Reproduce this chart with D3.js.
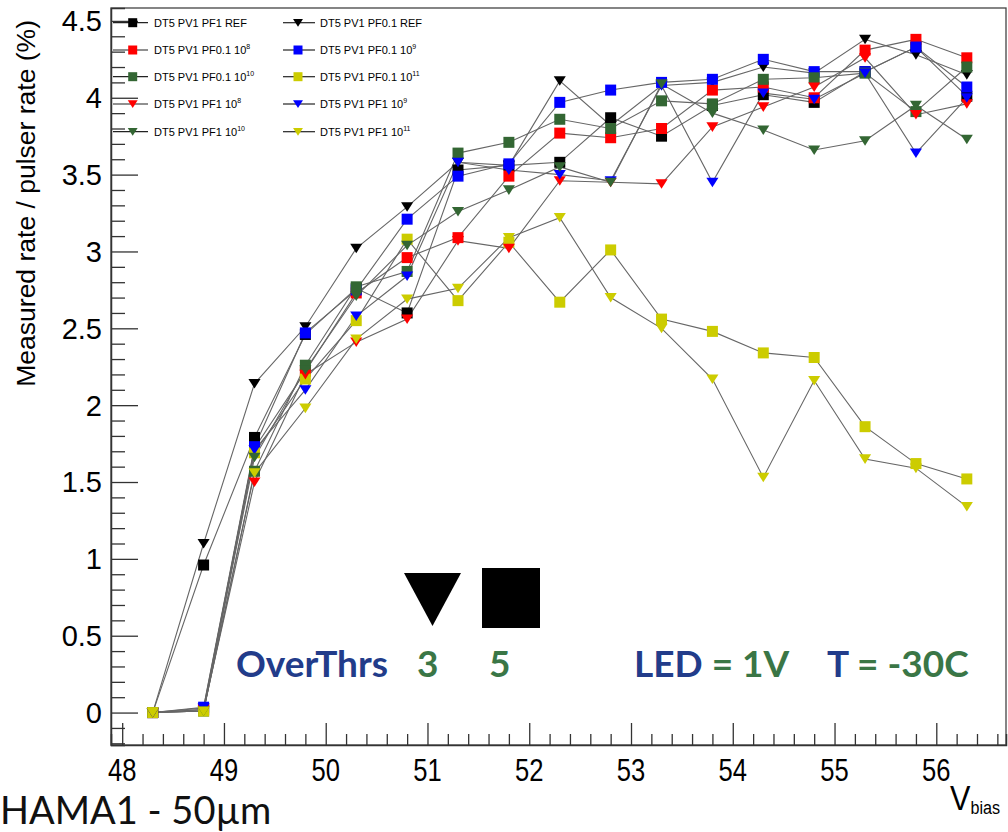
<!DOCTYPE html>
<html>
<head>
<meta charset="utf-8">
<script src="https://cdn.jsdelivr.net/npm/d3@7"></script>
<style>
  html, body { margin: 0; padding: 0; background: #fff; }
  svg { display: block; }
</style>
</head>
<body>
<svg id="chart" width="1008" height="832"></svg>
<script>
// Bias voltage scan points (V)
const vbias = [48.3, 48.8, 49.3, 49.8, 50.3, 50.8, 51.3, 51.8, 52.3, 52.8, 53.3, 53.8, 54.3, 54.8, 55.3, 55.8, 56.3];

// Measured rate / pulser rate (%) for each run
const pf1Ref      = [0, 0.96, 1.79, 2.46, 2.76, 2.60, 3.53, 3.56, 3.58, 3.87, 3.75, 3.95, 4.02, 3.97, 4.17, 4.33, 4.01];
const pf01Ref     = [0, 1.10, 2.14, 2.51, 3.02, 3.29, 3.58, 3.56, 4.11, 3.82, 4.08, 4.10, 4.20, 4.16, 4.38, 4.28, 4.15];
const pf01e8      = [0, 0.02, 1.72, 2.22, 2.73, 2.96, 3.09, 3.49, 3.77, 3.74, 3.80, 4.05, 4.07, 4.00, 4.31, 4.38, 4.26];
const pf01e9      = [0, 0.035, 1.73, 2.47, 2.75, 3.21, 3.49, 3.57, 3.97, 4.05, 4.10, 4.12, 4.25, 4.17, 4.17, 4.33, 4.07];
const pf01e10     = [0, 0.01, 1.57, 2.26, 2.77, 2.87, 3.64, 3.71, 3.86, 3.80, 3.98, 3.96, 4.12, 4.13, 4.16, 3.91, 4.20];
const pf01e11     = [0, 0.01, 1.69, 2.17, 2.55, 3.08, 2.68, 3.06, 2.67, 3.01, 2.56, 2.48, 2.34, 2.31, 1.86, 1.62, 1.52];
const pf1e8       = [0, 0.02, 1.50, 2.20, 2.41, 2.56, 3.07, 3.02, 3.46, 3.45, 3.44, 3.81, 3.94, 4.07, 4.26, 3.89, 3.96];
const pf1e9       = [0, 0.03, 1.71, 2.10, 2.58, 2.84, 3.58, 3.53, 3.50, 3.46, 4.08, 3.45, 4.03, 3.99, 4.16, 3.64, 4.00];
const pf1e10      = [0, 0.01, 1.66, 2.23, 2.71, 3.04, 3.26, 3.40, 3.55, 3.45, 4.09, 3.90, 3.79, 3.66, 3.72, 3.95, 3.73];
const pf1e11      = [0, 0.01, 1.56, 1.98, 2.43, 2.69, 2.76, 3.09, 3.22, 2.70, 2.50, 2.17, 1.53, 2.16, 1.65, 1.59, 1.34];

// Legend names: [base text, superscript exponent]
const seriesNames = [
  ["DT5 PV1 PF1 REF", ""],
  ["DT5 PV1 PF0.1 REF", ""],
  ["DT5 PV1 PF0.1 10", "8"],
  ["DT5 PV1 PF0.1 10", "9"],
  ["DT5 PV1 PF0.1 10", "10"],
  ["DT5 PV1 PF0.1 10", "11"],
  ["DT5 PV1 PF1 10", "8"],
  ["DT5 PV1 PF1 10", "9"],
  ["DT5 PV1 PF1 10", "10"],
  ["DT5 PV1 PF1 10", "11"]
];
const seriesValues = [pf1Ref, pf01Ref, pf01e8, pf01e9, pf01e10, pf01e11, pf1e8, pf1e9, pf1e10, pf1e11];

const xTicksMajor = [48, 49, 50, 51, 52, 53, 54, 55, 56];
const yTicksMajor = [0, 0.5, 1, 1.5, 2, 2.5, 3, 3.5, 4, 4.5];

// Marker style per run
const RED = "#ff0000", BLUE = "#0000ff", GREEN = "#336633", YELLOW = "#cccc00", BLACK = "#000000";
const styles = [
  {color: BLACK,  shape: "square"},
  {color: BLACK,  shape: "tri"},
  {color: RED,    shape: "square"},
  {color: BLUE,   shape: "square"},
  {color: GREEN,  shape: "square"},
  {color: YELLOW, shape: "square"},
  {color: RED,    shape: "tri"},
  {color: BLUE,   shape: "tri"},
  {color: GREEN,  shape: "tri"},
  {color: YELLOW, shape: "tri"}
];

const series = seriesValues.map((vals, i) => ({
  name: seriesNames[i],
  points: vbias.map((v, j) => ({x: v, y: vals[j]})),
  ...styles[i]
}));

const svg = d3.select("#chart");
const frame = {left: 111, right: 1006, top: 8, bottom: 745};

const x = d3.scaleLinear().domain([47.89, 56.685]).range([frame.left, frame.right]);
const y = d3.scaleLinear().domain([-0.211, 4.584]).range([frame.bottom, frame.top]);

const AXIS_FONT = "'Liberation Sans', Arial, Helvetica, sans-serif";

// Marker path generators
function markerPath(shape, s) {
  if (shape === "square") {
    const h = s / 2;
    return `M${-h},${-h}H${h}V${h}H${-h}Z`;
  }
  const w = s * 0.55, hTop = s * 0.42, hBot = s * 0.45;
  return `M${-w},${-hTop}L${w},${-hTop}L0,${hBot}Z`;
}

// Frame (top and right edges)
svg.append("rect")
  .attr("x", frame.left).attr("y", frame.top)
  .attr("width", frame.right - frame.left).attr("height", frame.bottom - frame.top)
  .attr("fill", "none").attr("stroke", "#444").attr("stroke-width", 1.3);

// Y axis: ticks drawn inward (to the right)
const yAxis = d3.axisRight(y)
  .tickValues(d3.range(-2, 46).map(k => k / 10))
  .tickSize(14)
  .tickFormat("");
const yAxisG = svg.append("g").attr("transform", `translate(${frame.left},0)`).call(yAxis);
yAxisG.select(".domain").attr("stroke", "#333").attr("stroke-width", 1.5);
yAxisG.selectAll(".tick line")
  .attr("stroke", "#333").attr("stroke-width", 1.3)
  .attr("x2", d => (Math.abs(d * 2 - Math.round(d * 2)) < 1e-6 ? 27 : 14));

svg.append("g").selectAll("text").data(yTicksMajor).join("text")
  .attr("x", 102).attr("y", d => y(d))
  .attr("dy", "0.36em")
  .attr("text-anchor", "end")
  .attr("font-family", AXIS_FONT).attr("font-size", 29)
  .text(d => d);

// X axis: ticks drawn inward (upward)
const xAxis = d3.axisTop(x)
  .tickValues(d3.range(240, 284).map(k => k / 5))
  .tickSize(11)
  .tickFormat("");
const xAxisG = svg.append("g").attr("transform", `translate(0,${frame.bottom})`).call(xAxis);
xAxisG.select(".domain").attr("stroke", "#333").attr("stroke-width", 1.5);
xAxisG.selectAll(".tick line")
  .attr("stroke", "#333").attr("stroke-width", 1.3)
  .attr("y2", d => (Math.abs(d - Math.round(d)) < 1e-6 ? -22 : -11));

svg.append("g").selectAll("text").data(xTicksMajor).join("text")
  .attr("transform", d => `translate(${x(d)},781) scale(0.8,1)`)
  .attr("text-anchor", "middle")
  .attr("font-family", AXIS_FONT).attr("font-size", 32)
  .text(d => d);

// Axis titles
svg.append("text")
  .attr("transform", "translate(35,20) rotate(-90)")
  .attr("text-anchor", "end")
  .attr("font-family", AXIS_FONT).attr("font-size", 26.5)
  .text("Measured rate / pulser rate (%)");

const vt = svg.append("text")
  .attr("transform", "translate(950,810) scale(0.85,1)")
  .attr("font-family", AXIS_FONT).attr("font-size", 36);
vt.append("tspan").text("V");
vt.append("tspan").attr("font-size", 19).attr("dy", 4).text("bias");

// Connecting lines
const line = d3.line().x(d => x(d.x)).y(d => y(d.y));
const plot = svg.append("g");
series.forEach(s => {
  plot.append("path")
    .datum(s.points)
    .attr("d", line)
    .attr("fill", "none")
    .attr("stroke", "#666")
    .attr("stroke-width", 1.1);
});
// Markers, drawn in series order
series.forEach(s => {
  plot.append("g").selectAll("path").data(s.points).join("path")
    .attr("transform", d => `translate(${x(d.x)},${y(d.y)})`)
    .attr("d", markerPath(s.shape, 11))
    .attr("fill", s.color);
});

// Legend, two columns
const legend = svg.append("g").attr("font-family", AXIS_FONT).attr("font-size", 11);
const legCols = [{lx0: 113, lx1: 148, mx: 132.7, tx: 154}, {lx0: 283, lx1: 315, mx: 298, tx: 320}];
const legRows = [22.7, 50, 76.7, 104, 131.7];
series.forEach((s, i) => {
  const c = legCols[i % 2], ry = legRows[Math.floor(i / 2)];
  legend.append("line")
    .attr("x1", c.lx0).attr("x2", c.lx1).attr("y1", ry).attr("y2", ry)
    .attr("stroke", "#222").attr("stroke-width", 1.2);
  legend.append("path")
    .attr("transform", `translate(${c.mx},${ry})`)
    .attr("d", markerPath(s.shape, 9))
    .attr("fill", s.color);
  const t = legend.append("text").attr("x", c.tx).attr("y", ry + 4);
  t.append("tspan").text(s.name[0]);
  if (s.name[1]) t.append("tspan").attr("font-size", 7).attr("dy", -5).text(s.name[1]);
});

// Run condition annotations
const NAVY = "#223c8a", DGREEN = "#3a7646";
const ANN_FONT = "Lato, 'Open Sans', sans-serif";
const ann = svg.append("g").attr("font-family", ANN_FONT).attr("font-weight", 700).attr("font-size", 37);
ann.append("text").attr("x", 236).attr("y", 677).attr("fill", NAVY).text("OverThrs");
ann.append("text").attr("x", 417).attr("y", 677).attr("fill", DGREEN).text("3");
ann.append("text").attr("x", 489).attr("y", 677).attr("fill", DGREEN).text("5");
const led = ann.append("text").attr("x", 634).attr("y", 677);
led.append("tspan").attr("fill", NAVY).text("LED");
led.append("tspan").attr("fill", DGREEN).text(" = 1V");
const tt = ann.append("text").attr("x", 827).attr("y", 677);
tt.append("tspan").attr("fill", NAVY).text("T");
tt.append("tspan").attr("fill", DGREEN).text(" = -30C");

// Large marker keys for the two thresholds
svg.append("path")
  .attr("d", "M404,573L461,573L432.5,626Z")
  .attr("fill", "#000");
svg.append("rect")
  .attr("x", 482).attr("y", 568).attr("width", 58).attr("height", 60)
  .attr("fill", "#000");

// Device label
svg.append("text")
  .attr("x", 0).attr("y", 824)
  .attr("font-family", "Lato, 'Open Sans', sans-serif")
  .attr("font-size", 38)
  .attr("fill", "#111")
  .text("HAMA1 - 50µm");
</script>
</body>
</html>
